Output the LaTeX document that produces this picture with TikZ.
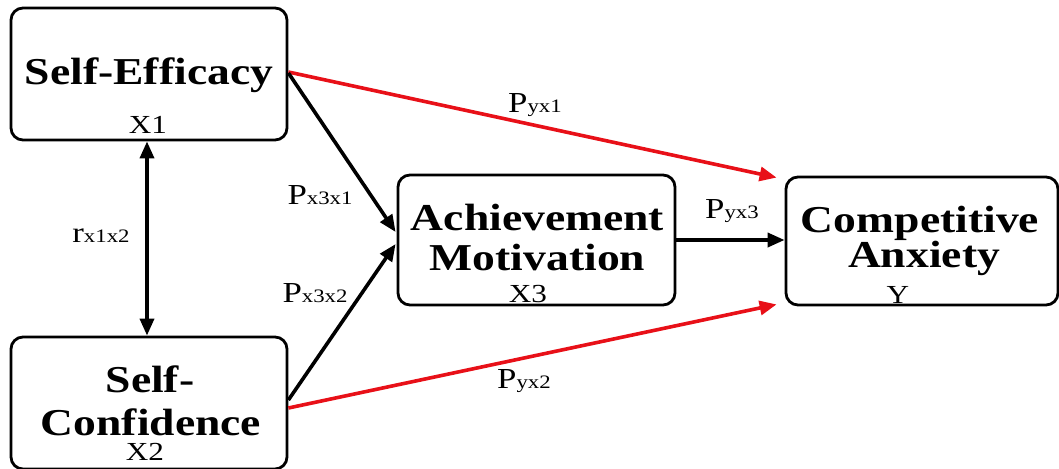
\documentclass[tikz,border=0pt]{standalone}
\usepackage{fontspec}
\setmainfont{Liberation Serif}[FakeStretch=1.2]
\usetikzlibrary{arrows.meta}
\definecolor{myred}{RGB}{232,16,24}
\newcommand{\ttlfont}{\bfseries\fontsize{38}{40}\selectfont}
\newcommand{\varfont}{\fontsize{26}{28}\selectfont}
\newcommand{\bigP}[2]{{\fontsize{29}{30}\selectfont #1}{\fontsize{19}{20}\selectfont #2}}
\begin{document}
\begin{tikzpicture}[x=1pt,y=-1pt,
  box/.style={draw, line width=2.8pt, rounded corners=12pt, inner sep=0pt, anchor=center},
  ttl/.style={font=\ttlfont, anchor=base, inner sep=0pt},
  var/.style={font=\varfont, anchor=base, inner sep=0pt},
  lab/.style={anchor=base, inner sep=0pt},
  arr/.style={line width=3.6pt, -{Triangle[length=17pt,width=14pt]}},
  redarr/.style={arr, draw=myred, -{Triangle[length=17pt,width=14pt,fill=myred]}},
  dbl/.style={line width=3.6pt, {Triangle[length=17pt,width=14pt]}-{Triangle[length=17pt,width=14pt]}}
]
\useasboundingbox (0,0) rectangle (1059,468);
% boxes
\node[box, minimum width=276pt, minimum height=132pt] (se) at (149,74) {};
\node[box, minimum width=276pt, minimum height=132pt] (sc) at (149,403) {};
\node[box, minimum width=277pt, minimum height=130pt] (am) at (536.5,240) {};
\node[box, minimum width=272pt, minimum height=128pt] (ca) at (922,241) {};
% texts
\node[ttl] (se1) at (149,85) {Self-Efficacy};
\node[var] (sev) at (148,133) {X1};
\node[ttl] (sc1) at (150,392) {Self-};
\node[ttl] (sc2) at (151,435) {Confidence};
\node[var] (scv) at (145,460) {X2};
\node[ttl] (am1) at (537.5,230) {Achievement};
\node[ttl] (am2) at (537.5,270) {Motivation};
\node[var] (amv) at (528,302) {X3};
\node[ttl] (ca1) at (920,232) {Competitive};
\node[ttl] (ca2) at (924,267) {Anxiety};
\node[var] (cav) at (898,303) {Y};
% connectors
\draw[redarr] ([yshift=2pt]se.east) -- ([xshift=-8pt,yshift=-2pt]ca.north west);
\draw[redarr] ([yshift=-5pt]sc.east) -- ([xshift=-8pt,yshift=2pt]ca.south west);
\draw[arr] ([yshift=1pt]se.east) -- ([xshift=-1pt,yshift=8pt]am.west);
\draw[arr] ([yshift=3pt]sc.east) -- ([xshift=-1pt,yshift=-4pt]am.west);
\draw[arr] (am.east) -- (am.east -| ca.west);
\draw[dbl] ([xshift=-2pt]se.south) -- ([xshift=-2pt]sc.north);
% labels
\node[lab] (l1) at (535,113) {\bigP{P}{yx1}};
\node[lab] (l2) at (732,218) {\bigP{P}{yx3}};
\node[lab] (l3) at (524,388) {\bigP{P}{yx2}};
\node[lab] (l4) at (320,204) {\bigP{P}{x3x1}};
\node[lab] (l5) at (315,302) {\bigP{P}{x3x2}};
\node[lab] (l6) at (101,242) {\bigP{r}{x1x2}};
\end{tikzpicture}
\end{document}
